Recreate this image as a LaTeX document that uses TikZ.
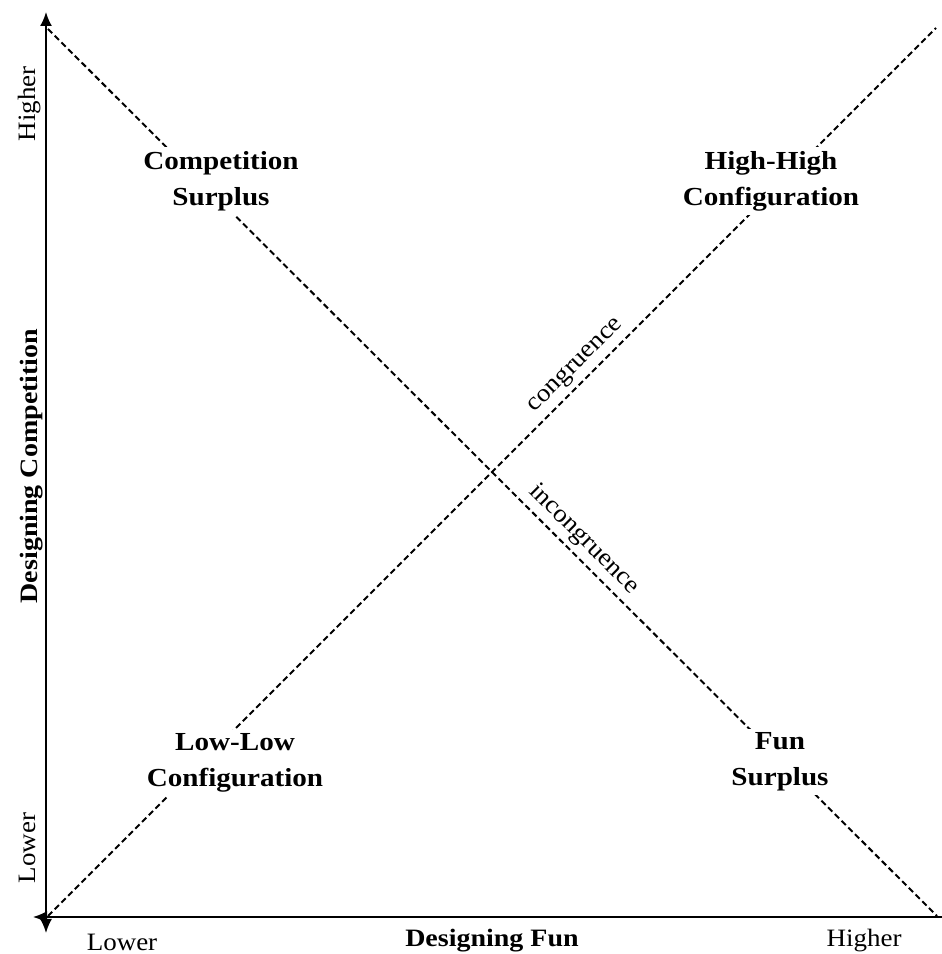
\documentclass[tikz,border=0pt]{standalone}
\usepackage{fontspec}
\setmainfont{Liberation Serif}[FakeStretch=1.08]
\newfontfamily\quadfont{Liberation Serif}[FakeStretch=1.12]
\usetikzlibrary{arrows.meta}

\begin{document}
\begin{tikzpicture}[x=1pt,y=1pt,>={Latex[length=14pt,width=12pt]},
  axis/.style={line width=1.8pt},
  diag/.style={line width=2pt,dash pattern=on 6pt off 3.5pt},
  quad/.style={fill=white,align=center,inner sep=4pt,
    font=\quadfont\bfseries\fontsize{26}{36}\selectfont},
  endlabel/.style={anchor=base,font=\fontsize{25}{28}\selectfont},
  axislabel/.style={anchor=base,font=\quadfont\bfseries\fontsize{25}{28}\selectfont},
  fitlabel/.style={sloped,above,inner sep=5pt,font=\fontsize{25}{28}\selectfont}]
 \useasboundingbox (0,0) rectangle (942,954);
 % axes
 \coordinate (ytop) at (46,942);
 \coordinate (ybot) at (46,21);
 \coordinate (xleft) at (33,37);
 \coordinate (xright) at (942,37);
 \draw[axis,<->] (ybot) -- (ytop);
 \draw[axis,<-] (xleft) -- (xright);
 % diagonals
 \coordinate (tl) at (48,925);
 \coordinate (br) at (937,38);
 \coordinate (bl) at (48,38);
 \coordinate (tr) at (936,926);
 \draw[diag] (bl) -- node[fitlabel,pos=0.607] {congruence} (tr);
 \draw[diag] (tl) -- node[fitlabel,pos=0.589] {incongruence} (br);
 % quadrants
 \node[quad] (compsurplus) at (221,773) {Competition\\Surplus};
 \node[quad] (highhigh) at (771,773) {High-High\\Configuration};
 \node[quad] (lowlow) at (235,191) {Low-Low\\Configuration};
 \node[quad] (funsurplus) at (780,192) {Fun\\Surplus};
 % axis labels
 \node[endlabel,rotate=90] (yhigh) at (35,850) {Higher};
 \node[endlabel,rotate=90] (ylow) at (35,106) {Lower};
 \node[axislabel,rotate=90] (ytitle) at (37,488) {Designing Competition};
 \node[endlabel] (xlow) at (122,4) {Lower};
 \node[axislabel] (xtitle) at (492,7) {Designing Fun};
 \node[endlabel] (xhigh) at (864,8) {Higher};
\end{tikzpicture}
\end{document}
